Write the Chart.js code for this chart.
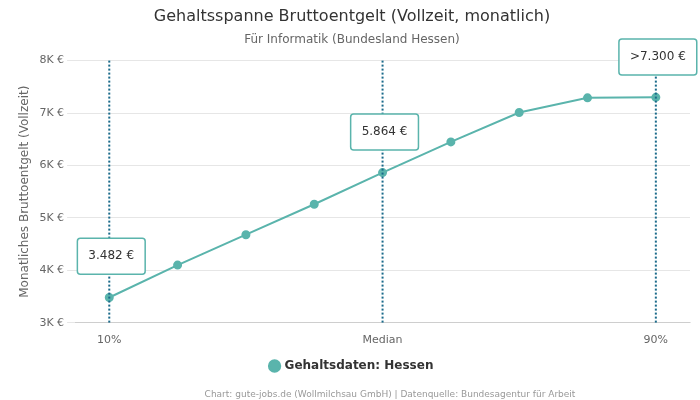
<!DOCTYPE html>
<html><head><meta charset="utf-8">
<script src="https://cdn.jsdelivr.net/npm/chart.js@4"></script>
<style>body{margin:0;background:#fff}#wrap{width:700px;height:400px}</style>
</head><body><div id="wrap"><canvas id="c"></canvas></div>
<script>
var labels = ['10%', '', '', '', 'Median', '', '', '', '90%'];
var values = [3482, 4100, 4680, 5260, 5864, 6450, 7010, 7290, 7300];
var markers = [0, 4, 8];
var markerTexts = ['3.482 €', '5.864 €', '>7.300 €'];
var markerY = [4270, 6640, 8070];

var teal = '#5ab4ac';

// vertical dotted lines + label boxes
var markerPlugin = {
	id: 'markers',
	afterDatasetsDraw: function(chart){
		var ctx = chart.ctx, xs = chart.scales.x, ys = chart.scales.y, area = chart.chartArea;
		ctx.save();
		for (var i = 0; i < markers.length; i++){
			var x = xs.getPixelForValue(markers[i]);
			ctx.strokeStyle = '#1a6a8a';
			ctx.lineWidth = 2;
			ctx.setLineDash([2, 2]);
			ctx.beginPath(); ctx.moveTo(x, area.top); ctx.lineTo(x, area.bottom); ctx.stroke();
		}
		ctx.setLineDash([]);
		ctx.font = '12px "DejaVu Sans"';
		for (var i = 0; i < markers.length; i++){
			var x = xs.getPixelForValue(markers[i]) + 2;
			var y = ys.getPixelForValue(markerY[i]);
			var w = ctx.measureText(markerTexts[i]).width + 22, h = 36;
			ctx.fillStyle = '#fff';
			ctx.strokeStyle = teal;
			ctx.lineWidth = 1.5;
			ctx.beginPath(); ctx.roundRect(x - w/2, y - h/2, w, h, 3); ctx.fill(); ctx.stroke();
			ctx.fillStyle = '#333';
			ctx.textAlign = 'center'; ctx.textBaseline = 'middle';
			ctx.fillText(markerTexts[i], x, y);
		}
		ctx.restore();
	}
};

new Chart(document.getElementById('c'), {
	type: 'line',
	data: {
		labels: labels,
		datasets: [{
			label: 'Gehaltsdaten: Hessen',
			data: values,
			borderColor: teal,
			backgroundColor: teal,
			borderWidth: 2,
			pointRadius: 3.5,
			tension: 0
		}]
	},
	options: {
		responsive: true,
		maintainAspectRatio: false,
		animation: false,
		layout: {padding: {left: 14, right: 10, top: 0, bottom: 18}},
		scales: {
			x: {
				offset: true,
				grid: {display: false},
				ticks: {color: '#666', font: {family: 'DejaVu Sans', size: 11}, autoSkip: false, maxRotation: 0}
			},
			y: {
				min: 3000, max: 8000,
				grid: {color: '#e6e6e6'},
				border: {display: false},
				ticks: {stepSize: 1000, color: '#666', font: {family: 'DejaVu Sans', size: 11},
					callback: function(v){ return (v/1000) + 'K €'; }},
				title: {display: true, text: 'Monatliches Bruttoentgelt (Vollzeit)', color: '#666', font: {family: 'DejaVu Sans', size: 12}}
			}
		},
		plugins: {
			title: {display: true, text: 'Gehaltsspanne Bruttoentgelt (Vollzeit, monatlich)', color: '#333',
				font: {family: 'DejaVu Sans', size: 16, weight: 'normal'}, padding: {top: 7, bottom: 6}},
			subtitle: {display: true, text: 'Für Informatik (Bundesland Hessen)', color: '#666',
				font: {family: 'DejaVu Sans', size: 12}, padding: {bottom: 14}},
			legend: {position: 'bottom', labels: {color: '#333', font: {family: 'DejaVu Sans', size: 12, weight: 'bold'},
				usePointStyle: true, pointStyle: 'circle', boxWidth: 8, boxHeight: 8}},
			tooltip: {enabled: false}
		}
	},
	plugins: [markerPlugin, {
		id: 'footer',
		afterDraw: function(chart){
			var ctx = chart.ctx;
			ctx.save();
			ctx.font = '9px "DejaVu Sans"'; ctx.fillStyle = '#999'; ctx.textAlign = 'center';
			ctx.fillText('Chart: gute-jobs.de (Wollmilchsau GmbH) | Datenquelle: Bundesagentur für Arbeit', 390, 395);
			ctx.restore();
		}
	}]
});
</script></body></html>
